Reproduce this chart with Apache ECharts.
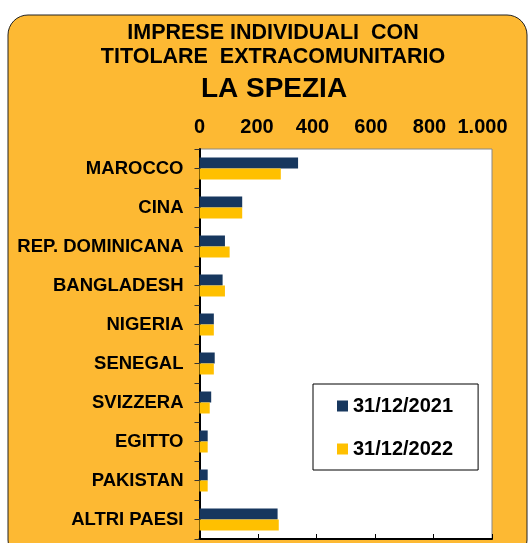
<!DOCTYPE html>
<html>
<head>
<meta charset="utf-8">
<script src="https://cdn.jsdelivr.net/npm/echarts@6/dist/echarts.min.js"></script>
<style>
html,body{margin:0;padding:0;background:#fff;}
#chart{width:528px;height:543px;}
</style>
</head>
<body>
<div id="chart"></div>
<script>
var categories = ['MAROCCO','CINA','REP. DOMINICANA','BANGLADESH','NIGERIA','SENEGAL','SVIZZERA','EGITTO','PAKISTAN','ALTRI PAESI'];
var values2021 = [337,146,87,79,49,52,40,28,28,267];
var values2022 = [278,146,103,87,49,49,35,28,28,271];
var seriesNames = ['31/12/2021','31/12/2022'];
var titleLines = ['IMPRESE INDIVIDUALI  CON','TITOLARE  EXTRACOMUNITARIO','LA SPEZIA'];

var FONT = "'Liberation Sans', Arial, sans-serif";
var tickFont = {fontFamily:FONT,fontWeight:'bold',fontSize:20,color:'#000'};
var chart = echarts.init(document.getElementById('chart'), null, {renderer:'canvas'});
chart.setOption({
  animation:false,
  backgroundColor:'#ffffff',
  graphic:[
    {type:'rect', z:-10, shape:{x:8,y:15,width:519,height:545,r:20},
     style:{fill:'#FDB933',stroke:'#222',lineWidth:1}},
    {type:'text', x:273, y:21.5, z:10,
     style:{text:titleLines[0]+'\n'+titleLines[1], fill:'#000', font:'bold 21.5px '+FONT,
            align:'center', textAlign:'center', verticalAlign:'top', textVerticalAlign:'top', lineHeight:24}}
  ],
  title:{
    text:titleLines[2], left:274, textAlign:'center', top:75, padding:0,
    textStyle:{fontFamily:FONT,fontWeight:'bold',fontSize:28,color:'#000'}
  },
  legend:{
    orient:'vertical', left:313, top:384,
    padding:[12,25,11,24],
    backgroundColor:'#fff', borderColor:'#000', borderWidth:1,
    itemWidth:11, itemHeight:11, itemGap:23,
    icon:'rect',
    textStyle:{fontFamily:FONT,fontWeight:'bold',fontSize:20,color:'#000',lineHeight:20,padding:[0,0,0,0]},
    data:seriesNames
  },
  grid:{left:199.5,right:36,top:149,bottom:4,show:true,backgroundColor:'#fff',borderColor:'#888',borderWidth:1,containLabel:false},
  xAxis:{
    type:'value', position:'top', min:0, max:1000, interval:200,
    axisLine:{show:true,lineStyle:{color:'#000',width:2}},
    axisTick:{show:true,length:5,lineStyle:{color:'#000',width:1}},
    splitLine:{show:false},
    axisLabel:{margin:12,fontFamily:FONT,fontWeight:'bold',fontSize:20,color:'#000',
      rich:{
        s0:Object.assign({padding:[0,0,0,0]},tickFont),
        s1:Object.assign({padding:[0,2,0,0]},tickFont),
        s2:Object.assign({padding:[0,8,0,0]},tickFont),
        s3:Object.assign({padding:[0,19,0,0]},tickFont)
      },
      formatter:function(v){
        var t = v>=1000?(Math.floor(v/1000))+'.'+String(v%1000).padStart(3,'0'):String(v);
        var k = v===0?'s0':(v===200?'s1':(v<1000?'s2':'s3'));
        return '{'+k+'|'+t+'}';
      }}
  },
  yAxis:[
    {type:'category', data:categories, inverse:true, position:'left',
     axisLine:{show:true,lineStyle:{color:'#000',width:2}},
     axisTick:{show:false},
     axisLabel:{margin:16,fontFamily:FONT,fontWeight:'bold',fontSize:18.5,color:'#000'}},
    {type:'value', position:'left', min:0, max:10, interval:0.5,
     axisLine:{show:false}, axisLabel:{show:false}, splitLine:{show:false},
     axisTick:{show:true,length:5,lineStyle:{color:'#333',width:1}}}
  ],
  series:[
    {name:seriesNames[0], type:'bar', data:values2021, yAxisIndex:0, barWidth:11, barGap:'0%',
     itemStyle:{color:'#17375E'}},
    {name:seriesNames[1], type:'bar', data:values2022, yAxisIndex:0, barWidth:11, barGap:'0%',
     itemStyle:{color:'#FFC000'}}
  ]
});
</script>
</body>
</html>
